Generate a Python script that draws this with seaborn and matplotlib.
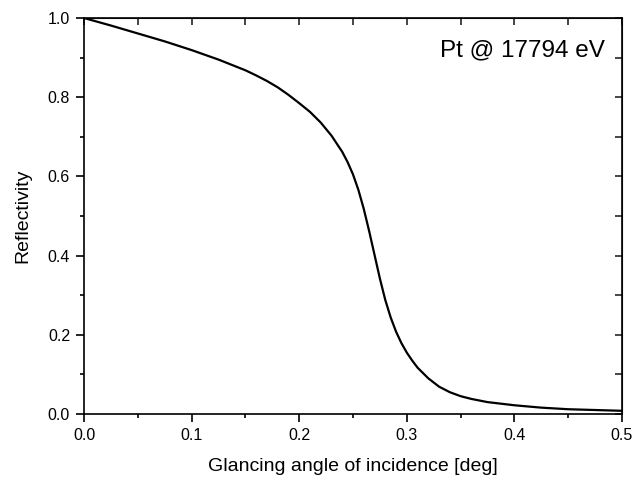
import matplotlib
matplotlib.use("Agg")
import matplotlib.pyplot as plt
import seaborn as sns
import pandas as pd
from matplotlib.ticker import MultipleLocator, FormatStrFormatter

# 반사율 곡선
angle = [0.0, 0.025, 0.05, 0.075, 0.1, 0.125, 0.15, 0.16, 0.17, 0.18, 0.19,
         0.2, 0.21, 0.22, 0.23, 0.24, 0.245, 0.25, 0.255, 0.26, 0.265, 0.27,
         0.275, 0.28, 0.285, 0.29, 0.295, 0.3, 0.305, 0.31, 0.32, 0.33, 0.34,
         0.35, 0.36, 0.375, 0.4, 0.425, 0.45, 0.475, 0.5]
reflectivity = [1.0, 0.981, 0.961, 0.941, 0.919, 0.895, 0.868, 0.855, 0.841, 0.825,
                0.806, 0.785, 0.763, 0.736, 0.703, 0.662, 0.636, 0.605, 0.566, 0.518,
                0.462, 0.402, 0.342, 0.288, 0.244, 0.208, 0.179, 0.155, 0.135, 0.117,
                0.090, 0.069, 0.055, 0.045, 0.038, 0.030, 0.022, 0.016, 0.012, 0.010,
                0.008]

df = pd.DataFrame({"angle": angle, "R": reflectivity})

sns.set_style("ticks")
plt.rcParams['font.family'] = ['Liberation Sans', 'DejaVu Sans']
plt.rcParams['text.color'] = 'black'
plt.rcParams['axes.labelcolor'] = 'black'

fig = plt.figure(figsize=(6.35, 4.83), dpi=100)
ax = fig.add_axes([0.1323, 0.1429, 0.8472, 0.8198])

sns.lineplot(data=df, x="angle", y="R", color="black", linewidth=1.6, ax=ax,
             solid_joinstyle='round')

ax.set_xlim(0, 0.5)
ax.set_ylim(0, 1.0)
ax.xaxis.set_major_locator(MultipleLocator(0.1))
ax.xaxis.set_minor_locator(MultipleLocator(0.05))
ax.yaxis.set_major_locator(MultipleLocator(0.2))
ax.yaxis.set_minor_locator(MultipleLocator(0.1))
ax.xaxis.set_major_formatter(FormatStrFormatter('%.1f'))
ax.yaxis.set_major_formatter(FormatStrFormatter('%.1f'))

for s in ax.spines.values():
    s.set_linewidth(1.2)
    s.set_color("black")

ax.tick_params(which='major', direction='out', length=6, width=1.2,
               labelsize=11.5, colors='black', pad=4)
ax.tick_params(which='minor', direction='out', length=3, width=1.2, colors='black')

# 위/오른쪽 축 눈금 (안쪽)
sec_x = ax.secondary_xaxis('top')
sec_x.xaxis.set_major_locator(MultipleLocator(0.05))
sec_x.tick_params(direction='in', length=5, width=1.2, labeltop=False)
sec_y = ax.secondary_yaxis('right')
sec_y.yaxis.set_major_locator(MultipleLocator(0.1))
sec_y.tick_params(direction='in', length=5, width=1.2, labelright=False)

ax.set_xlabel("Glancing angle of incidence [deg]", fontsize=14, labelpad=11)
ax.set_ylabel("Reflectivity", fontsize=14, labelpad=12)

ax.text(0.968, 0.919, "Pt @ 17794 eV", transform=ax.transAxes,
        ha='right', va='center', fontsize=17.5)

fig.savefig("out.png", dpi=100)
